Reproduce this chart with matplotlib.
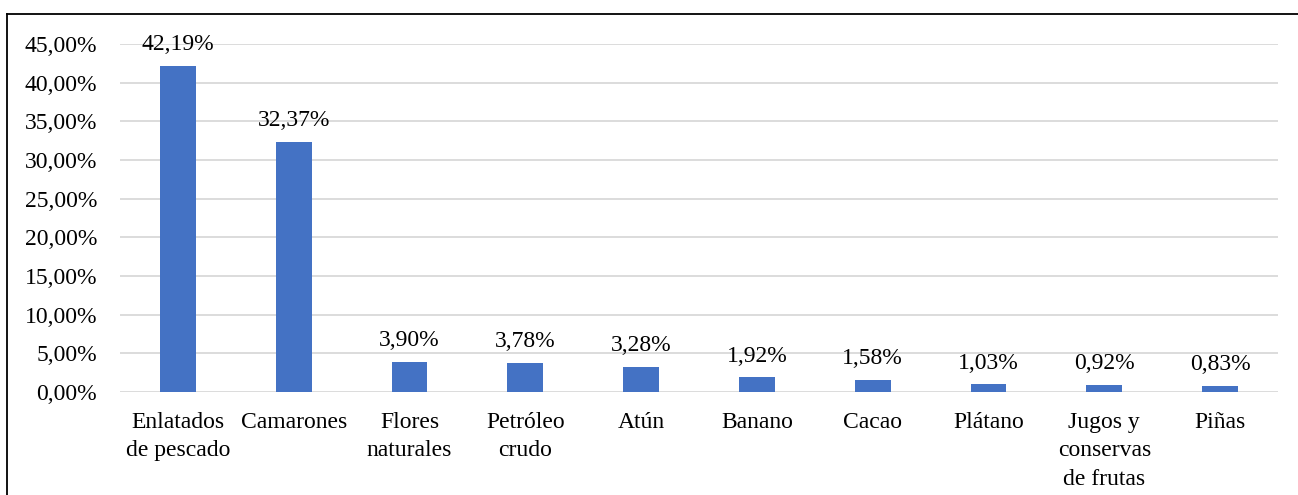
import matplotlib
matplotlib.use("Agg")
import matplotlib.pyplot as plt
from matplotlib.lines import Line2D
from matplotlib.ticker import FuncFormatter
import numpy as np

categories = ["Enlatados\nde pescado", "Camarones", "Flores\nnaturales", "Petróleo\ncrudo",
              "Atún", "Banano", "Cacao", "Plátano", "Jugos y\nconservas\nde frutas", "Piñas"]
values = [42.19, 32.37, 3.90, 3.78, 3.28, 1.92, 1.58, 1.03, 0.92, 0.83]
yticks = [0, 5, 10, 15, 20, 25, 30, 35, 40, 45]

plt.rcParams["font.family"] = ["Liberation Serif", "DejaVu Serif"]

fig = plt.figure(figsize=(12.98, 4.95), dpi=100)
ax = fig.add_axes([0.0924, 0.2081, 0.8922, 0.7030])

x = np.arange(len(categories))
ax.bar(x, values, width=0.31, color="#4472C4", zorder=3)

def pct(v):
    return f"{v:.2f}%".replace(".", ",")

# value labels above bars
for xi, v in zip(x, values):
    ax.annotate(pct(v), (xi, v), xytext=(0, 7.5), textcoords="offset points",
                ha="center", va="bottom", fontsize=17, color="#000000")

ax.set_xlim(-0.5, len(categories) - 0.5)
ax.set_ylim(0, 45)
ax.set_yticks(yticks)
ax.yaxis.set_major_formatter(FuncFormatter(lambda v, _: pct(v)))
ax.set_xticks(x)
ax.set_xticklabels(categories, fontsize=17, linespacing=1.45, va="top")
ax.tick_params(axis="y", length=0, labelsize=17, pad=16.5)
ax.tick_params(axis="x", length=0, pad=14.5)
ax.grid(axis="y", color="#D9D9D9", linewidth=1.3, zorder=0)
for s in ax.spines.values():
    s.set_visible(False)

# outer frame (right and bottom edges fall outside the image)
fig.add_artist(Line2D([7 / 1298, 1.0], [1 - 14 / 495, 1 - 14 / 495],
                      transform=fig.transFigure, color="black", linewidth=1.3))
fig.add_artist(Line2D([7 / 1298, 7 / 1298], [0.0, 1 - 14 / 495],
                      transform=fig.transFigure, color="black", linewidth=1.3))

fig.savefig("out.png", dpi=100)
